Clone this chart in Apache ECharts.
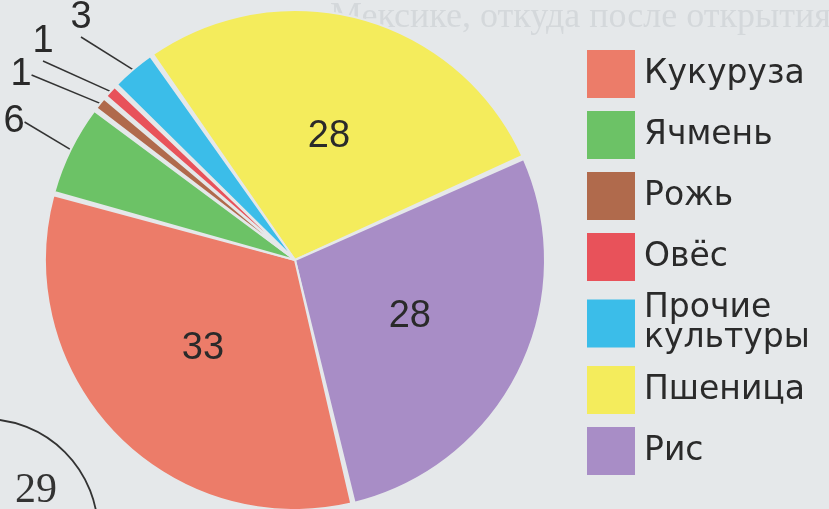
<!DOCTYPE html>
<html>
  <head>
    <meta charset="utf-8">
    <title>Зерновые культуры</title>
    <script src="https://cdn.jsdelivr.net/npm/echarts@6/dist/echarts.min.js"></script>
    <style>
      html, body { margin: 0; padding: 0; background: #e5e8ea; }
      #main { width: 829px; height: 509px; }
    </style>
  </head>
  <body>
    <div id="main"></div>
    <script>
      // данные диаграммы, в порядке по часовой стрелке от верха
      const crops = ['Пшеница', 'Рис', 'Кукуруза', 'Ячмень', 'Рожь', 'Овёс', 'Прочие\nкультуры'];
      const shares = [28, 28, 33, 6, 1, 1, 3];
      const colors = ['#f4ec5c', '#a88dc6', '#ec7c69', '#6cc266', '#b06a4c', '#e8525a', '#3bbde9'];
      // порядок в легенде
      const legendOrder = ['Кукуруза', 'Ячмень', 'Рожь', 'Овёс', 'Прочие\nкультуры', 'Пшеница', 'Рис'];
      // где стоят подписи мелких секторов (по индексу)
      const labelSpots = { 3: [14, 122], 4: [21, 75], 5: [43, 42], 6: [81, 18] };

      const ink = '#2a2a2a';
      const paper = '#e5e8ea';

      const pieData = crops.map(function (name, i) {
        const small = shares[i] < 10;
        return {
          name: name,
          value: shares[i],
          itemStyle: { color: colors[i] },
          label: { position: small ? 'outside' : 'inside' },
          labelLine: { show: small }
        };
      });

      const chart = echarts.init(document.getElementById('main'));
      chart.setOption({
        backgroundColor: paper,
        animation: false,
        legend: {
          orient: 'vertical',
          left: 580,
          top: 43,
          icon: 'rect',
          itemWidth: 50,
          itemHeight: 50,
          itemGap: 9,
          selectedMode: false,
          data: legendOrder,
          textStyle: {
            fontFamily: 'DejaVu Sans',
            fontSize: 33,
            lineHeight: 30,
            color: ink,
            padding: [0, 0, 0, 3]
          }
        },
        graphic: [
          {
            type: 'text',
            left: 330,
            top: 0,
            z: -10,
            style: {
              text: 'Мексике, откуда после открытия',
              font: '36px "Liberation Serif"',
              fill: '#d4d8db'
            }
          },
          {
            type: 'circle',
            shape: { cx: -15, cy: 532, r: 113 },
            style: { fill: 'none', stroke: '#333', lineWidth: 1.8 }
          },
          {
            type: 'text',
            left: 15,
            top: 470,
            style: {
              text: '29',
              font: '42px "Liberation Serif"',
              fill: '#333'
            }
          }
        ],
        series: [
          {
            type: 'pie',
            center: [295, 260],
            radius: 250,
            startAngle: 125,
            padAngle: 0.8,
            avoidLabelOverlap: false,
            itemStyle: { borderColor: paper, borderWidth: 2 },
            label: {
              formatter: '{c}',
              fontFamily: 'Liberation Sans',
              fontSize: 38,
              color: ink
            },
            labelLine: {
              length: 30,
              length2: 0,
              lineStyle: { color: '#333', width: 1.5 }
            },
            labelLayout: function (p) {
              const spot = labelSpots[p.dataIndex];
              if (!spot) return {};
              return { x: spot[0], y: spot[1], align: 'center', verticalAlign: 'middle' };
            },
            emphasis: { disabled: true },
            data: pieData
          }
        ]
      });
    </script>
  </body>
</html>
